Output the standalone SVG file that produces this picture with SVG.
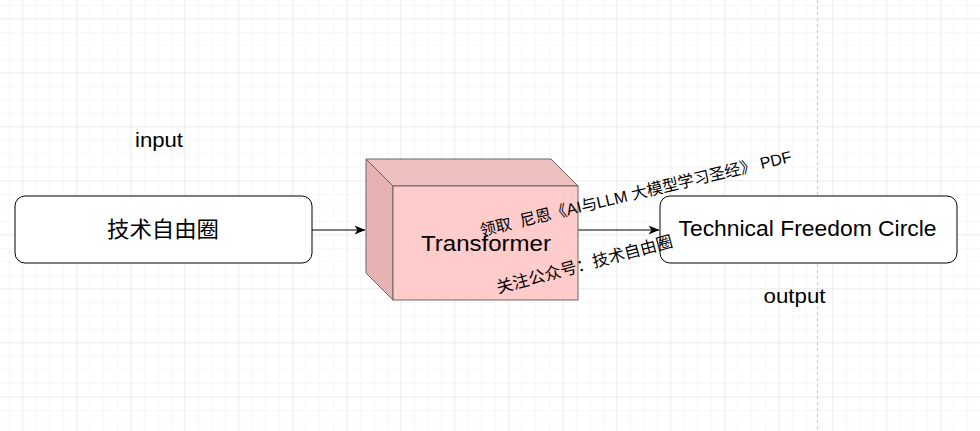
<svg xmlns="http://www.w3.org/2000/svg" width="980" height="431" viewBox="0 0 980 431">
<defs>
<pattern id="minor" x="-3.7" y="-7.7" width="13.5" height="13.5" patternUnits="userSpaceOnUse">
<path d="M13.5 0V13.5M0 13.5H13.5" fill="none" stroke="#f0f0f0" stroke-width="1"/>
</pattern>
<pattern id="major" x="-30.7" y="-34.7" width="54" height="54" patternUnits="userSpaceOnUse">
<path d="M54 0V54M0 54H54" fill="none" stroke="#e0e0e0" stroke-width="1"/>
</pattern>
<marker id="arr" viewBox="0 0 11 10" refX="10.5" refY="5" markerWidth="11" markerHeight="10" markerUnits="userSpaceOnUse" orient="auto">
<path d="M0 0.5L11 5L0 9.5L3 5Z" fill="#000"/>
</marker>
<style>
.box{fill:#fff;stroke:#000;stroke-width:1}
.t{font-family:"Liberation Sans","Noto Sans CJK SC",sans-serif;fill:#000}
.edge{stroke:#000;stroke-width:1;fill:none}
</style>
</defs>
<rect width="980" height="431" fill="#fff"/>
<rect width="980" height="431" fill="url(#minor)"/>
<rect width="980" height="431" fill="url(#major)"/>
<line x1="817.5" y1="0" x2="817.5" y2="431" stroke="#c8c8c8" stroke-dasharray="3 3"/>
<g id="connectors">
<path class="edge" d="M312 230H365" marker-end="url(#arr)"/>
<path class="edge" d="M578 230H659" marker-end="url(#arr)"/>
</g>
<g id="node-input-label"><text class="t" x="159" y="147" font-size="21" text-anchor="middle" textLength="48" lengthAdjust="spacingAndGlyphs">input</text></g>
<g id="node-src">
<rect class="box" x="15" y="196" width="297" height="67" rx="10"/>
<text class="t" x="163" y="237" font-size="22" text-anchor="middle" textLength="112" lengthAdjust="spacingAndGlyphs">技术自由圈</text>
</g>
<g id="node-transformer">
<path d="M366 159H551L578 186H393Z" fill="#f0c0c0" stroke="#666"/>
<path d="M366 159L393 186V300L366 273Z" fill="#e6b3b3" stroke="#666"/>
<rect x="393" y="186" width="185" height="114" fill="#ffcccc" stroke="#666"/>
<text class="t" x="486" y="251" font-size="22" text-anchor="middle" textLength="130" lengthAdjust="spacingAndGlyphs">Transformer</text>
</g>
<g id="node-dst">
<rect class="box" x="660" y="196" width="297" height="67" rx="10"/>
<text class="t" x="807.5" y="236" font-size="22" text-anchor="middle" textLength="258" lengthAdjust="spacingAndGlyphs">Technical Freedom Circle</text>
</g>
<g id="node-output-label"><text class="t" x="794.5" y="303" font-size="21" text-anchor="middle" textLength="62" lengthAdjust="spacingAndGlyphs">output</text></g>
<g id="watermark">
<text class="t" x="637" y="199" font-size="16" text-anchor="middle" xml:space="preserve" transform="rotate(-13.5 637 199)">领取  尼恩《AI与LLM 大模型学习圣经》 PDF</text>
<text class="t" x="586" y="270" font-size="16.5" text-anchor="middle" transform="rotate(-15 586 270)">关注公众号：技术自由圈</text>
</g>
</svg>
